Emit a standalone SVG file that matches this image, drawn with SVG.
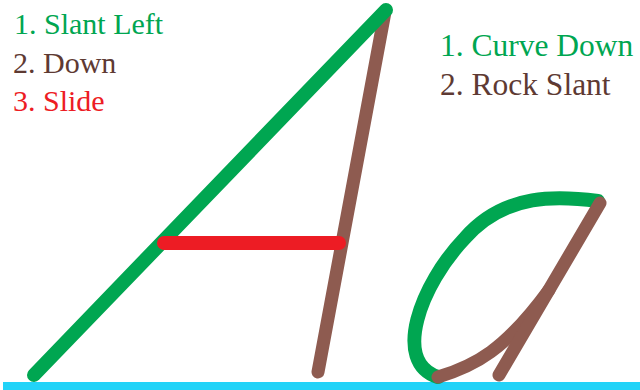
<svg xmlns="http://www.w3.org/2000/svg" width="640" height="390" viewBox="0 0 640 390">
<style>
.lbl{font-family:"Liberation Serif","Times New Roman",serif;font-size:30px}
.lr{font-size:31.5px}
.g{fill:#00A651}.b{fill:#5E3A33}.r{fill:#ED1C24}
.s{fill:none;stroke-linecap:round;stroke-linejoin:round}
.sg{stroke:#00A651;stroke-width:14}
.sb{stroke:#8E5B50;stroke-width:13}
.sr{stroke:#ED1C24;stroke-width:14}
</style>
<rect width="640" height="390" fill="#fff"/>
<g id="baseline"><rect x="3" y="382" width="637" height="8" fill="#22D3F8"/></g>
<g id="labels-A">
<text class="lbl g" x="14" y="34">1. Slant Left</text>
<text class="lbl b" x="13" y="73">2. Down</text>
<text class="lbl r" x="13" y="111">3. Slide</text>
</g>
<g id="labels-a">
<text class="lbl lr g" x="440" y="56">1. Curve Down</text>
<text class="lbl lr b" x="440" y="95">2. Rock Slant</text>
</g>
<g id="letter-A">
<line class="s sb" x1="385" y1="12" x2="318" y2="372"/>
<line class="s sg" x1="386" y1="10" x2="34" y2="375"/>
<line class="s sr" x1="164" y1="243" x2="339" y2="243"/>
</g>
<g id="letter-a">
<path class="s sg" d="M598 201 C560 196 505 192 465 238 C420 285 392 362 438 377"/>
<path class="s sb" d="M438 377 C475 366 505 350 549 290"/>
<line class="s sb" x1="600" y1="203" x2="499" y2="375"/>
</g>
</svg>
